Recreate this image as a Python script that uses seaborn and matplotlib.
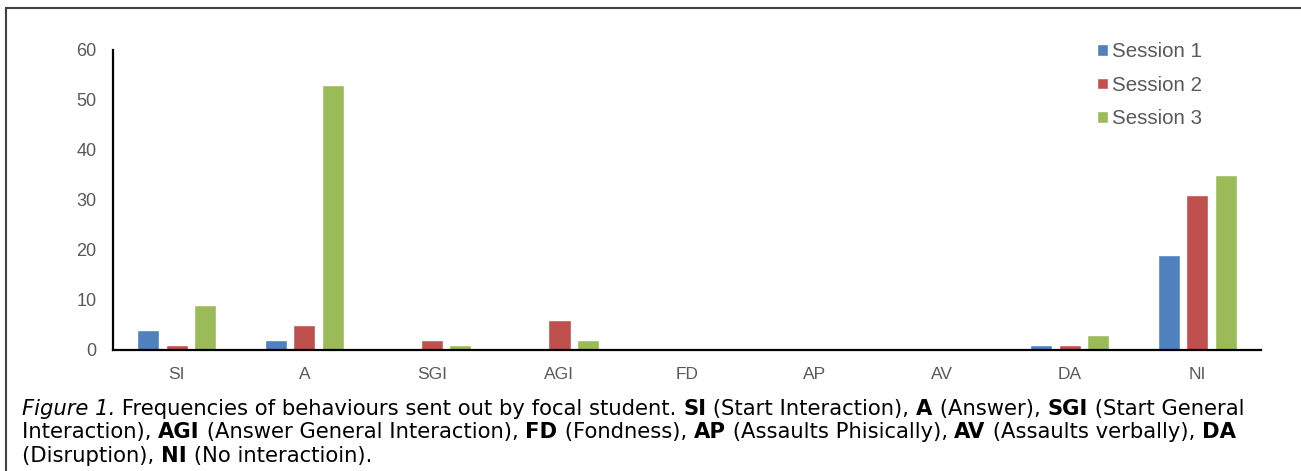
import pandas as pd
import matplotlib.pyplot as plt
import seaborn as sns
from matplotlib.patches import Rectangle

# Data
behaviours = ["SI", "A", "SGI", "AGI", "FD", "AP", "AV", "DA", "NI"]
session_1 = [4, 2, 0, 0, 0, 0, 0, 1, 19]
session_2 = [1, 5, 2, 6, 0, 0, 0, 1, 31]
session_3 = [9, 53, 1, 2, 0, 0, 0, 3, 35]
sessions = ["Session 1", "Session 2", "Session 3"]
colors = ["#4F81BD", "#C0504D", "#9BBB59"]

df = pd.DataFrame({
    "behaviour": behaviours * 3,
    "session": [s for s in sessions for _ in behaviours],
    "count": session_1 + session_2 + session_3,
})

sns.set_style("white")
plt.rcParams["font.family"] = ["Liberation Sans", "DejaVu Sans"]

W, H = 1301, 471
fig = plt.figure(figsize=(W / 100, H / 100), dpi=100)
ax = fig.add_axes([113 / W, 1 - 350 / H, (1261 - 113) / W, 300 / H])

sns.barplot(data=df, x="behaviour", y="count", hue="session", order=behaviours,
            hue_order=sessions, palette=colors, width=0.67, gap=0.22,
            saturation=1, ax=ax, legend=True)

ax.set_xlim(-0.5, 8.5)
ax.set_ylim(0, 60)
ax.set_yticks(range(0, 61, 10))
ax.set_xlabel("")
ax.set_ylabel("")
ax.tick_params(axis="y", length=0, pad=12, labelsize=13, labelcolor="#595959")
ax.tick_params(axis="x", length=0, pad=12, labelsize=12.5, labelcolor="#595959")
for s in ["top", "right"]:
    ax.spines[s].set_visible(False)
for s in ["left", "bottom"]:
    ax.spines[s].set_color("black")
    ax.spines[s].set_linewidth(1.6)
ax.grid(False)

handles, labels = ax.get_legend_handles_labels()
ax.get_legend().remove()
fig.legend(handles, labels, loc="upper left", bbox_to_anchor=(1087 / W, 1 - 32 / H),
           frameon=False, fontsize=14.8, handlelength=0.5, handleheight=0.5,
           handletextpad=0.2, labelspacing=0.7, borderpad=0, labelcolor="#595959")

# outer frame
fig.patches.append(Rectangle((6 / W, -0.1), 1.2, 1.1 - 8 / H, transform=fig.transFigure,
                             fill=False, edgecolor="#404040", linewidth=1.5))

# caption with mixed styles
caption = [
    [("Figure 1.", "normal", "italic"), (" Frequencies of behaviours sent out by focal student. ", "normal", "normal"),
     ("SI", "bold", "normal"), (" (Start Interaction), ", "normal", "normal"), ("A", "bold", "normal"),
     (" (Answer), ", "normal", "normal"), ("SGI", "bold", "normal"), (" (Start General", "normal", "normal")],
    [("Interaction), ", "normal", "normal"), ("AGI", "bold", "normal"),
     (" (Answer General Interaction), ", "normal", "normal"), ("FD", "bold", "normal"),
     (" (Fondness), ", "normal", "normal"), ("AP", "bold", "normal"),
     (" (Assaults Phisically), ", "normal", "normal"), ("AV", "bold", "normal"),
     (" (Assaults verbally), ", "normal", "normal"), ("DA", "bold", "normal")],
    [("(Disruption), ", "normal", "normal"), ("NI", "bold", "normal"), (" (No interactioin).", "normal", "normal")],
]
baselines = [415, 438, 462]
renderer = fig.canvas.get_renderer()
for line, yb in zip(caption, baselines):
    x = 22
    for txt, weight, style in line:
        t = fig.text(x / W, 1 - yb / H, txt, fontsize=15.2, fontweight=weight, fontstyle=style,
                     family="DejaVu Sans", va="baseline", ha="left", color="black")
        x += t.get_window_extent(renderer).width

fig.savefig("out.png", dpi=100)
